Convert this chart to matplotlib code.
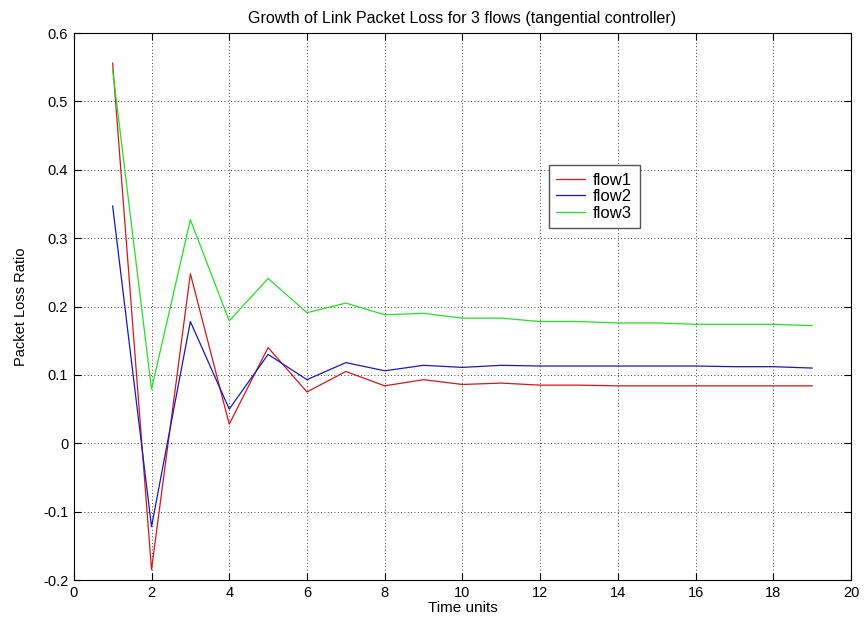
import matplotlib
matplotlib.use("Agg")
import matplotlib.pyplot as plt

plt.rcParams["font.family"] = ["Liberation Sans", "DejaVu Sans"]

time_units = list(range(1, 20))

flow1 = [0.556, -0.185, 0.248, 0.028, 0.140, 0.075, 0.105, 0.084, 0.093, 0.086,
         0.088, 0.085, 0.085, 0.084, 0.084, 0.084, 0.084, 0.084, 0.084]
flow2 = [0.347, -0.122, 0.178, 0.050, 0.130, 0.093, 0.118, 0.106, 0.114, 0.111,
         0.114, 0.113, 0.113, 0.113, 0.113, 0.113, 0.112, 0.112, 0.110]
flow3 = [0.546, 0.079, 0.327, 0.179, 0.241, 0.191, 0.205, 0.188, 0.190, 0.183,
         0.183, 0.178, 0.178, 0.176, 0.176, 0.174, 0.174, 0.174, 0.172]

x_ticks = list(range(0, 21, 2))
y_ticks = [-0.2, -0.1, 0, 0.1, 0.2, 0.3, 0.4, 0.5, 0.6]


def plott():
    fig = plt.figure(figsize=(8.66, 6.21), dpi=100)
    ax = fig.add_axes([0.0852, 0.066, 0.8975, 0.8808])

    ax.plot(time_units, flow1, color="#d01818", lw=0.9, label="flow1")
    ax.plot(time_units, flow2, color="#1818c0", lw=0.9, label="flow2")
    ax.plot(time_units, flow3, color="#22e022", lw=0.9, label="flow3")

    ax.set_xlim(0, 20)
    ax.set_ylim(-0.2, 0.6)
    ax.set_xticks(x_ticks)
    ax.set_yticks(y_ticks)
    ax.set_yticklabels(["-0.2", "-0.1", "0", "0.1", "0.2", "0.3", "0.4", "0.5", "0.6"])
    ax.tick_params(direction="in", top=True, right=True, length=5,
                   labelsize=10.5, width=0.8, pad=4)
    ax.grid(True, color="black", linestyle=(0, (1, 3)), linewidth=0.6)
    for s in ax.spines.values():
        s.set_linewidth(0.8)

    ax.set_title("Growth of Link Packet Loss for 3 flows (tangential controller)",
                 fontsize=11.5, pad=7)
    ax.set_xlabel("Time units", fontsize=11, labelpad=1)
    ax.set_ylabel("Packet Loss Ratio", fontsize=10.5, labelpad=11)

    leg = ax.legend(loc="upper left", bbox_to_anchor=(0.6114, 0.7587),
                    borderaxespad=0, fontsize=12, fancybox=False, framealpha=1,
                    edgecolor="#555555", handlelength=1.7,
                    borderpad=0.45, labelspacing=0.1, handletextpad=0.5)
    leg.get_frame().set_linewidth(1.0)

    fig.savefig("out.png", dpi=100)


if __name__ == "__main__":
    plott()
